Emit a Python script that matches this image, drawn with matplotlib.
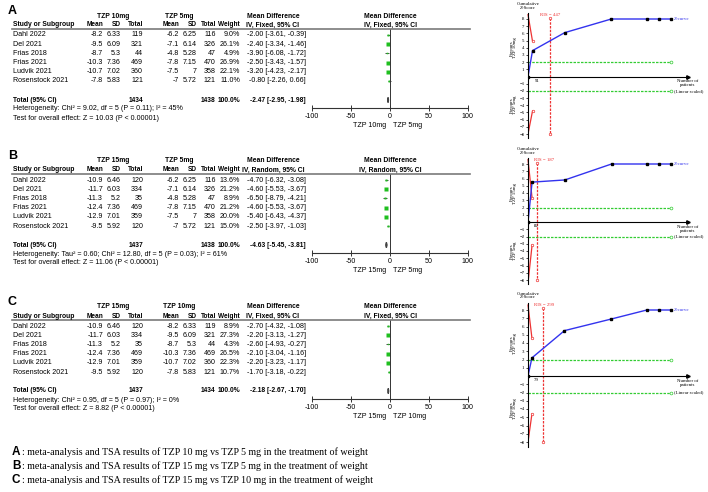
import matplotlib.pyplot as plt
import numpy as np

plt.rcParams['axes.unicode_minus'] = False

W, H = 708, 492
SANS = 'Liberation Sans'
SERIF = 'Liberation Serif'

studies = ["Dahl 2022", "Del 2021", "Frias 2018", "Frias 2021", "Ludvik 2021", "Rosenstock 2021"]

mean10 = [-8.2, -9.5, -8.7, -10.3, -10.7, -7.8]
sd10 = [6.33, 6.09, 5.3, 7.36, 7.02, 5.83]
n10 = [119, 321, 44, 469, 360, 121]
mean5 = [-6.2, -7.1, -4.8, -7.8, -7.5, -7]
sd5 = [6.25, 6.14, 5.28, 7.15, 7, 5.72]
n5 = [116, 326, 47, 470, 358, 121]
mean15 = [-10.9, -11.7, -11.3, -12.4, -12.9, -9.5]
sd15 = [6.46, 6.03, 5.2, 7.36, 7.01, 5.92]
n15 = [120, 334, 35, 469, 359, 120]

# panel A: 10mg vs 5mg
wA = [9.0, 26.1, 4.9, 26.9, 22.1, 11.0]
mdA = [-2.00, -2.40, -3.90, -2.50, -3.20, -0.80]
loA = [-3.61, -3.34, -6.08, -3.43, -4.23, -2.26]
hiA = [-0.39, -1.46, -1.72, -1.57, -2.17, 0.66]
totA = (-2.47, -2.95, -1.98)
# panel B: 15mg vs 5mg
wB = [13.6, 21.2, 8.9, 21.2, 20.0, 15.0]
mdB = [-4.70, -4.60, -6.50, -4.60, -5.40, -2.50]
loB = [-6.32, -5.53, -8.79, -5.53, -6.43, -3.97]
hiB = [-3.08, -3.67, -4.21, -3.67, -4.37, -1.03]
totB = (-4.63, -5.45, -3.81)
# panel C: 15mg vs 10mg
wC = [8.9, 27.3, 4.3, 26.5, 22.3, 10.7]
mdC = [-2.70, -2.20, -2.60, -2.10, -2.20, -1.70]
loC = [-4.32, -3.13, -4.93, -3.04, -3.23, -3.18]
hiC = [-1.08, -1.27, -0.27, -1.16, -1.17, -0.22]
totC = (-2.18, -2.67, -1.70)

# TSA data (cumulative patients, cumulative z)
tsa_nA = [0, 91, 738, 1677, 2395, 2637, 2872]
tsa_zA = [0, 3.6, 6.1, 8, 8, 8, 8]
tsa_nB = [0, 82, 742, 1681, 2398, 2639, 2875]
tsa_zB = [0, 5.5, 5.8, 8, 8, 8, 8]
tsa_nC = [0, 79, 734, 1672, 2391, 2632, 2871]
tsa_zC = [0, 2.2, 5.5, 6.9, 8, 8, 8]

fig = plt.figure(figsize=(7.08, 4.92), dpi=100)


def txt(x, y, s, **kw):
    kw.setdefault('va', 'center')
    kw.setdefault('family', SANS)
    kw.setdefault('fontsize', 5.1)
    fig.text(x / W, 1 - y / H, s, **kw)


def px_axes(x0, y0, x1, y1):
    return fig.add_axes([x0 / W, 1 - y1 / H, (x1 - x0) / W, (y1 - y0) / H])


def fmt(v):
    return format(v, 'g')


def forest(off, letter, ge, gc, me, se, ne, mc, sc, nc, w, md, lo, hi, tot, method, het, test):
    txt(8, 11 + off, letter, fontsize=9, weight='bold')
    txt(113, 16 + off, ge, ha='center', weight='bold', fontsize=4.9)
    txt(179, 16 + off, gc, ha='center', weight='bold', fontsize=4.9)
    txt(273, 16 + off, 'Mean Difference', ha='center', weight='bold', fontsize=4.9)
    txt(273, 25 + off, 'IV, %s, 95%% CI' % method, ha='center', weight='bold', fontsize=4.9)
    txt(390, 16 + off, 'Mean Difference', ha='center', weight='bold', fontsize=4.9)
    txt(390, 25 + off, 'IV, %s, 95%% CI' % method, ha='center', weight='bold', fontsize=4.9)
    txt(13, 25 + off, 'Study or Subgroup', weight='bold', fontsize=4.9)
    cols = [103, 121, 143, 179, 197, 216, 240]
    for x, h in zip(cols, ['Mean', 'SD', 'Total', 'Mean', 'SD', 'Total', 'Weight']):
        txt(x, 25 + off, h, ha='right', weight='bold', fontsize=4.7)
    fig.add_artist(plt.Line2D([12 / W, 470 / W], [1 - (29 + off) / H] * 2,
                              color='#7a7a7a', lw=1.2))
    for i, s in enumerate(studies):
        y = 35 + 9.2 * i + off
        txt(13, y, s)
        vals = [fmt(me[i]), fmt(se[i]), str(ne[i]), fmt(mc[i]), fmt(sc[i]), str(nc[i]),
                '%.1f%%' % w[i]]
        for x, v in zip(cols, vals):
            txt(x, y, v, ha='right')
        txt(306, y, '%.2f [%.2f, %.2f]' % (md[i], lo[i], hi[i]), ha='right')
    yt = 100 + off
    txt(13, yt, 'Total (95% CI)', weight='bold', fontsize=4.8)
    txt(143, yt, str(sum(ne)), ha='right', weight='bold', fontsize=4.8)
    txt(215, yt, str(sum(nc)), ha='right', weight='bold', fontsize=4.8)
    txt(240, yt, '100.0%', ha='right', weight='bold', fontsize=4.8)
    txt(306, yt, '%.2f [%.2f, %.2f]' % tot, ha='right', weight='bold', fontsize=4.8)
    txt(13, 109 + off, het)
    txt(13, 118 + off, test)

    ax = px_axes(312, 29 + off, 468, 108 + off)
    ax.set_xlim(-100, 100)
    ax.set_ylim(108, 29)
    rows = 35 + 9.2 * np.arange(len(studies))
    ax.hlines(rows, lo, hi, color='k', lw=0.5)
    for x, y, ww in zip(md, rows, w):
        ax.plot(x, y, 's', color='#1fbf1f', ms=np.sqrt(ww) * 0.5, mec='none')
    ax.fill([tot[1], tot[0], tot[2], tot[0]], [100, 97.5, 100, 102.5], color='#444444')
    ax.axvline(0, color='#333333', lw=0.7)
    for s in ['top', 'left', 'right']:
        ax.spines[s].set_visible(False)
    ax.spines['bottom'].set_linewidth(0.8)
    ax.spines['bottom'].set_color('#333333')
    ax.set_yticks([])
    ax.set_xticks([-100, -50, 0, 50, 100])
    ax.tick_params(axis='x', direction='inout', length=4, width=0.7, pad=1.5,
                   labelsize=5.1, color='#333333')
    for lab in ax.get_xticklabels():
        lab.set_family(SANS)
    ax.patch.set_alpha(0)
    txt(386, 125 + off, ge, ha='right')
    txt(393, 125 + off, gc, ha='left')


forest(0, 'A', 'TZP 10mg', 'TZP 5mg', mean10, sd10, n10, mean5, sd5, n5,
       wA, mdA, loA, hiA, totA, 'Fixed',
       'Heterogeneity: Chi\u00b2 = 9.02, df = 5 (P = 0.11); I\u00b2 = 45%',
       'Test for overall effect: Z = 10.03 (P < 0.00001)')
forest(145, 'B', 'TZP 15mg', 'TZP 5mg', mean15, sd15, n15, mean5, sd5, n5,
       wB, mdB, loB, hiB, totB, 'Random',
       'Heterogeneity: Tau\u00b2 = 0.60; Chi\u00b2 = 12.80, df = 5 (P = 0.03); I\u00b2 = 61%',
       'Test for overall effect: Z = 11.06 (P < 0.00001)')
forest(291, 'C', 'TZP 15mg', 'TZP 10mg', mean15, sd15, n15, mean10, sd10, n10,
       wC, mdC, loC, hiC, totC, 'Fixed',
       'Heterogeneity: Chi\u00b2 = 0.95, df = 5 (P = 0.97); I\u00b2 = 0%',
       'Test for overall effect: Z = 8.82 (P < 0.00001)')


def tsa(y8, yneg8, n, z, ris, ris_lab_x, up, low, fav_top, fav_bot):
    unit = (yneg8 - y8) / 16.0
    top = y8 - 0.8 * unit
    bot = yneg8 + 0.6 * unit
    ax = px_axes(528, top, 688, bot)
    ax.set_xlim(0, 3220)
    ax.set_ylim(-8.6, 8.8)
    ax.patch.set_alpha(0)
    ax.spines['top'].set_visible(False)
    ax.spines['right'].set_visible(False)
    ax.spines['bottom'].set_position(('data', 0))
    ax.spines['left'].set_linewidth(0.8)
    ax.spines['bottom'].set_linewidth(0.8)
    ax.plot(3220, 0, '>', color='k', ms=2.5, clip_on=False)
    ax.set_xticks([])
    ticks = [t for t in range(-8, 9) if t != 0]
    ax.set_yticks(ticks)
    ax.set_yticklabels([str(t).replace('-', '\u2212') for t in ticks],
                       family=SERIF, fontsize=3.5)
    ax.tick_params(axis='y', length=1.5, width=0.5, pad=1)
    # z = +/-2 lines
    for zz in (2, -2):
        ax.plot([0, n[-1]], [zz, zz], '--', color='#33cc33', lw=0.9, dashes=(2, 1))
        ax.plot(n[-1], zz, 'o', mfc='white', mec='#33cc33', ms=2, mew=0.5)
    # monitoring boundaries
    ax.plot([0, n[1]], up, '-', color='#ee3333', lw=0.9, clip_on=False)
    ax.plot([0, n[1]], low, '-', color='#ee3333', lw=0.9)
    ax.plot(n[1], up[1], 'o', mfc='white', mec='#ee3333', ms=1.8, mew=0.5)
    ax.plot(n[1], low[1], 'o', mfc='white', mec='#ee3333', ms=1.8, mew=0.5)
    # RIS line
    ax.plot([ris, ris], [8.2, -8], '--', color='#ee3333', lw=0.9, dashes=(2, 1))
    ax.plot([ris, ris], [8.2, -8], 'o', mfc='white', mec='#ee3333', ms=1.8, mew=0.5)
    ax.text(ris_lab_x, 8.6, 'RIS = %d' % ris, color='#ee3333', family=SERIF, fontsize=3.5,
            ha='center', va='center')
    # Z curve
    ax.plot(n, z, '-', color='#3333ee', lw=1.0)
    ax.plot(n, z, 's', color='k', ms=1.5)
    ax.text(n[-1] + 60, z[-1], 'Z-curve', color='#3333ee', family=SERIF, fontsize=3.5,
            va='center')
    ax.text(n[1] + 40, -0.3, str(n[1]), family=SERIF, fontsize=3.5, va='top')
    ax.text(3220, -0.4, 'Number of\npatients', family=SERIF, fontsize=3.5,
            ha='center', va='top', linespacing=0.9)
    ax.text(n[-1] + 60, -2, '(Linear scaled)', family=SERIF, fontsize=3.5, va='center')
    ax.text(0, 9.3, 'Cumulative\nZ-Score', family=SERIF, fontsize=3.5, ha='center',
            va='bottom', linespacing=0.9)
    ax.text(-290, 4, fav_top, family=SERIF, fontsize=3.5, ha='center', va='center',
            rotation=90, linespacing=0.9)
    ax.text(-290, -4, fav_bot, family=SERIF, fontsize=3.5, ha='center', va='center',
            rotation=90, linespacing=0.9)


tsa(19, 134, tsa_nA, tsa_zA, 447, 447, [8.6, 4.9], [-8.0, -4.8],
    'Favours\nTZP 10mg', 'Favours\nTZP 5mg')
tsa(164, 280, tsa_nB, tsa_zB, 187, 330, [8.6, 3.3], [-8.4, -3.2],
    'Favours\nTZP 15mg', 'Favours\nTZP 5mg')
tsa(310, 442, tsa_nC, tsa_zC, 299, 330, [8.6, 4.6], [-8.0, -4.6],
    'Favours\nTZP 15mg', 'Favours\nTZP 10mg')

captions = [('A', 'TZP 10 mg vs TZP 5 mg'),
            ('B', 'TZP 15 mg vs TZP 5 mg'),
            ('C', 'TZP 15 mg vs TZP 10 mg')]
for i, (let, comp) in enumerate(captions):
    y = 452 + 14 * i
    txt(12, y, let, fontsize=8.5, weight='bold')
    txt(21.5, y, ': meta-analysis and TSA results of %s in the treatment of weight' % comp,
        family=SERIF, fontsize=7.2)

fig.savefig('out.png', dpi=100)
